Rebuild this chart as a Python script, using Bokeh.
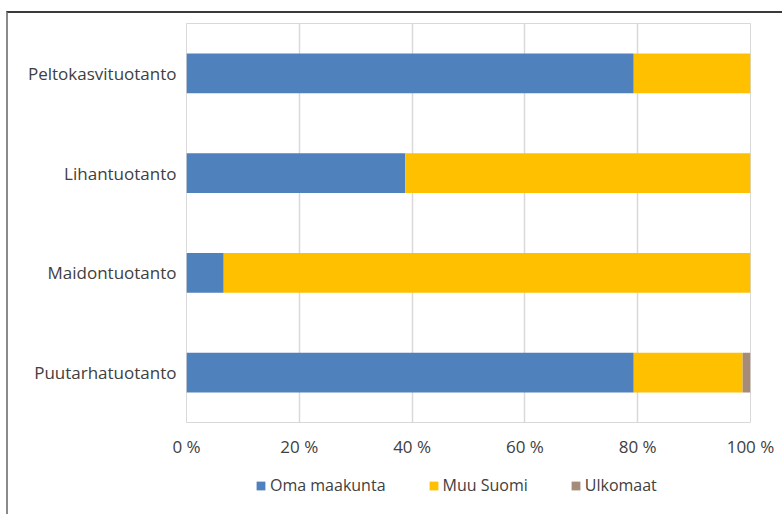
from bokeh.plotting import figure
from bokeh.layouts import column
from bokeh.models import Range1d, FactorRange, Legend, LegendItem, FixedTicker
from bokeh.embed import file_html
from bokeh.resources import INLINE

categories = ["Puutarhatuotanto", "Maidontuotanto", "Lihantuotanto", "Peltokasvituotanto"]
series = ["Oma maakunta", "Muu Suomi", "Ulkomaat"]
oma_maakunta = [79.3, 6.6, 38.8, 79.3]
muu_suomi = [19.3, 93.4, 61.2, 20.7]
ulkomaat = [1.4, 0.0, 0.0, 0.0]
colors = ["#4F81BD", "#FFC000", "#A68B78"]
tick_values = [0, 20, 40, 60, 80, 100]
tick_labels = ["0 %", "20 %", "40 %", "60 %", "80 %", "100 %"]

FONT = "Open Sans"
TXT = "#404040"

data = {"cat": categories, "Oma maakunta": oma_maakunta,
        "Muu Suomi": muu_suomi, "Ulkomaat": ulkomaat}

p = figure(width=774, height=447, output_backend="svg", toolbar_location=None,
           y_range=FactorRange(*categories, range_padding=0),
           x_range=Range1d(0, 100),
           min_border_left=178, min_border_right=32, min_border_top=10,
           min_border_bottom=34)

renderers = p.hbar_stack(series, y="cat", height=0.4, color=colors, source=data,
                         line_color=None)

p.outline_line_color = "#D9D9D9"
p.outline_line_width = 1
p.background_fill_color = "white"
p.border_fill_color = "white"

p.ygrid.grid_line_color = None
p.xgrid.grid_line_color = "#D9D9D9"
p.xgrid.grid_line_width = 1.5
p.xaxis.ticker = FixedTicker(ticks=tick_values)
p.xaxis.major_label_overrides = {v: l for v, l in zip(tick_values, tick_labels)}

for ax in (p.xaxis, p.yaxis):
    ax.axis_line_color = None
    ax.major_tick_line_color = None
    ax.minor_tick_line_color = None
    ax.major_tick_out = 0
    ax.major_tick_in = 0
    ax.major_label_text_font = FONT
    ax.major_label_text_color = TXT
    ax.major_label_text_font_size = "17px"
p.xaxis.major_label_standoff = 12
p.yaxis.major_label_standoff = 10

# legend strip below the chart (legend keys use zero-size swatch glyphs)
lg = figure(width=774, height=54, output_backend="svg", toolbar_location=None,
            x_range=Range1d(0, 1), y_range=Range1d(0, 1),
            min_border_left=0, min_border_right=0, min_border_top=0, min_border_bottom=0)
lg.axis.visible = False
lg.grid.visible = False
lg.outline_line_color = None
lg.border_fill_color = "white"
lg_renderers = [lg.quad(left=[0], right=[0], top=[0], bottom=[0], fill_color=c, line_color=None)
                for c in colors]
legend = Legend(items=[LegendItem(label=s, renderers=[r]) for s, r in zip(series, lg_renderers)],
                orientation="horizontal", location=(69, 18),
                glyph_width=11, glyph_height=11, label_standoff=4, spacing=42,
                label_text_font=FONT, label_text_color=TXT, label_text_font_size="16px",
                border_line_color=None, background_fill_alpha=0, margin=0, padding=6)
lg.add_layout(legend, "center")

layout = column(p, lg, spacing=0, margin=(11, 0, 0, 6),
                styles={"border-left": "2px solid #8a8a8a", "border-top": "2px solid #3a3a3a",
                        "background": "white"})

open("out.html", "w").write(file_html(layout, INLINE))
